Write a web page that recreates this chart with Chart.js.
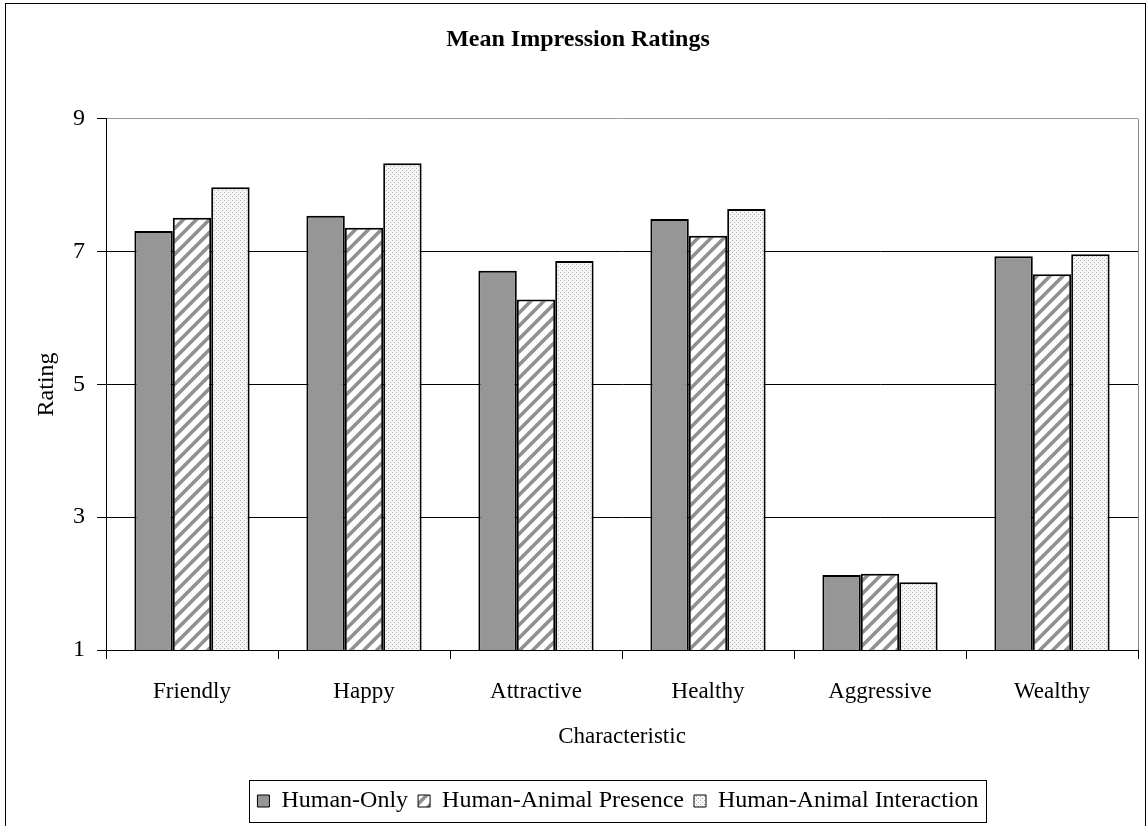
<!DOCTYPE html>
<html>
<head>
<meta charset="utf-8">
<script src="https://cdn.jsdelivr.net/npm/chart.js@4/dist/chart.umd.min.js"></script>
<style>
  html, body { margin: 0; padding: 0; background: #fff; overflow: hidden; }
  #wrap { position: relative; width: 1147px; height: 826px; }
  #frame { position: absolute; left: 5px; top: 3px; width: 1141px; height: 900px; border: 1px solid #000; box-sizing: border-box; pointer-events: none; }
  canvas { position: absolute; left: 0; top: 0; }
</style>
</head>
<body>
<div id="wrap">
  <canvas id="chart" width="1147" height="826"></canvas>
  <div id="frame"></div>
</div>
<script>
// data
var characteristics = ['Friendly', 'Happy', 'Attractive', 'Healthy', 'Aggressive', 'Wealthy'];
var humanOnly = [7.31, 7.54, 6.71, 7.49, 2.13, 6.93];
var animalPresence = [7.51, 7.36, 6.28, 7.24, 2.15, 6.66];
var animalInteraction = [7.97, 8.33, 6.86, 7.64, 2.02, 6.96];
var seriesNames = ['Human-Only', 'Human-Animal Presence', 'Human-Animal Interaction'];
var ratingTicks = [1, 3, 5, 7, 9];

var serif = '"Liberation Serif", "Times New Roman", serif';

// diagonal hatch, white with grey stripes
function hatchPattern() {
  var s = 13;
  var c = document.createElement('canvas');
  c.width = s; c.height = s;
  var g = c.getContext('2d');
  g.fillStyle = '#ffffff';
  g.fillRect(0, 0, s, s);
  g.strokeStyle = '#909090';
  g.lineWidth = 3.6;
  g.beginPath();
  g.moveTo(-3, s + 3); g.lineTo(s + 3, -3);
  g.moveTo(-3, 3); g.lineTo(3, -3);
  g.moveTo(s - 3, s + 3); g.lineTo(s + 3, s - 3);
  g.stroke();
  return g.createPattern(c, 'repeat');
}

// fine light grey dots
function dotPattern() {
  var c = document.createElement('canvas');
  c.width = 4; c.height = 4;
  var g = c.getContext('2d');
  g.fillStyle = '#f6f6f6';
  g.fillRect(0, 0, 4, 4);
  g.fillStyle = '#b0b0b0';
  g.fillRect(0, 0, 1, 1);
  g.fillRect(2, 2, 1, 1);
  return g.createPattern(c, 'repeat');
}

// title and legend are not centred on the plot in the original
var titleCenter = 578;
var legendCenter = 618;

var framePlugin = {
  id: 'framePlugin',
  afterLayout: function(chart) {
    var t = chart.titleBlock;
    if (t) {
      var dx = titleCenter - (t.left + t.right) / 2;
      t.left += dx; t.right += dx;
    }
    var l = chart.legend;
    if (l) {
      var dl = legendCenter - (l.left + l.right) / 2;
      l.left += dl; l.right += dl;
    }
  },
  afterDraw: function(chart) {
    var ctx = chart.ctx;
    var area = chart.chartArea;
    ctx.save();
    ctx.strokeStyle = '#8a8a8a';
    ctx.lineWidth = 1;
    ctx.beginPath();
    ctx.moveTo(Math.round(area.right) + 0.5, area.top);
    ctx.lineTo(Math.round(area.right) + 0.5, area.bottom);
    ctx.stroke();

    var legend = chart.legend;
    if (legend && legend.legendHitBoxes.length) {
      var boxes = legend.legendHitBoxes;
      var left = boxes[0].left - 8;
      var last = boxes[boxes.length - 1];
      var right = last.left + last.width + 8;
      ctx.strokeStyle = '#000';
      ctx.strokeRect(Math.round(left) + 0.5, Math.round(legend.top) + 1.5,
        Math.round(right - left), Math.round(legend.height) - 2);
    }
    ctx.restore();
  }
};

var data = {
  labels: characteristics,
  datasets: [
    { label: seriesNames[0], data: humanOnly, backgroundColor: '#969696' },
    { label: seriesNames[1], data: animalPresence, backgroundColor: hatchPattern() },
    { label: seriesNames[2], data: animalInteraction, backgroundColor: dotPattern() }
  ].map(function(ds) {
    ds.borderColor = '#000';
    ds.borderWidth = 2;
    ds.borderSkipped = false;
    ds.categoryPercentage = 0.67;
    ds.barPercentage = 1.0;
    return ds;
  })
};

var options = {
  responsive: false,
  animation: false,
  layout: { padding: { left: 0, right: 9, top: 0, bottom: 3 } },
  plugins: {
    title: {
      display: true,
      text: 'Mean Impression Ratings',
      color: '#000',
      font: { family: serif, size: 24, weight: 'bold' },
      padding: { top: 25, bottom: 65 }
    },
    legend: {
      position: 'bottom',
      labels: {
        color: '#000',
        font: { family: serif, size: 24 },
        boxWidth: 12,
        boxHeight: 12,
        padding: 10,
        generateLabels: function(chart) {
          var items = Chart.defaults.plugins.legend.labels.generateLabels(chart);
          items.forEach(function(it) { it.lineWidth = 1; });
          return items;
        }
      }
    },
    tooltip: { enabled: false }
  },
  scales: {
    x: {
      grid: {
        offset: true,
        drawOnChartArea: false,
        drawTicks: true,
        tickLength: 9,
        color: '#000'
      },
      border: { color: '#000', width: 1 },
      ticks: {
        color: '#000',
        font: { family: serif, size: 23 },
        padding: 19
      },
      title: {
        display: true,
        text: 'Characteristic',
        color: '#000',
        font: { family: serif, size: 23 },
        padding: { top: 10, bottom: 28 }
      },
      afterFit: function(scale) { scale.height = 129; }
    },
    y: {
      min: 1,
      max: 9,
      afterBuildTicks: function(scale) {
        scale.ticks = ratingTicks.map(function(v) { return { value: v }; });
      },
      grid: {
        color: function(ctx) {
          return ctx.tick && ctx.tick.value === 9 ? '#9a9a9a' : '#000';
        },
        tickColor: '#000',
        tickLength: 9
      },
      border: { color: '#000', width: 1 },
      ticks: {
        color: '#000',
        font: { family: serif, size: 24 },
        padding: 12
      },
      title: {
        display: true,
        text: 'Rating',
        color: '#000',
        font: { family: serif, size: 24 },
        padding: { top: 32, bottom: 0 }
      },
      afterFit: function(scale) { scale.width = 106; }
    }
  }
};

new Chart(document.getElementById('chart'), {
  type: 'bar',
  data: data,
  options: options,
  plugins: [framePlugin]
});
</script>
</body>
</html>
